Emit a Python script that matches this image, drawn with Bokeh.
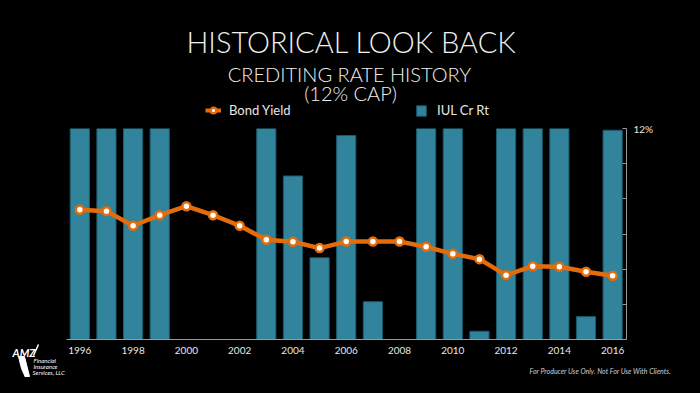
from bokeh.plotting import figure
from bokeh.layouts import column, row
from bokeh.models import (ColumnDataSource, Legend, LegendItem, FixedTicker,
                          Range1d, Title)
from bokeh.core.properties import value
from bokeh.embed import file_html
from bokeh.resources import INLINE

# ---- data ----
years = list(range(1996, 2017))
iul_cr_rt = [12, 12, 12, 12, 0, 0, 0, 12, 9.3, 4.65, 11.6, 2.15, 0, 12, 12, 0.47,
             12, 12, 12, 1.3, 11.9]
bond_yield = [7.38, 7.30, 6.47, 7.07, 7.58, 7.07, 6.47, 5.67, 5.56, 5.20, 5.57,
              5.57, 5.57, 5.27, 4.87, 4.57, 3.66, 4.17, 4.14, 3.85, 3.62]
x_ticks = list(range(1996, 2017, 2))
y_ticks = [0, 2, 4, 6, 8, 10, 12]
title = "HISTORICAL LOOK BACK"
subtitle1 = "CREDITING RATE HISTORY"
subtitle2 = "(12% CAP)"
series_names = ["Bond Yield", "IUL Cr Rt"]
footer = "For Producer Use Only. Not For Use With Clients."
logo_lines = ["Financial", "Insurance", "Services, LLC"]

FONT = "Lato"
LIGHT = "'Lato Light', Lato"
TEAL = "#31849B"
TEAL_EDGE = "#1d5a6b"
ORANGE = "#E46C0A"
TXT = "#e6e6e6"

W = 684

def blank(width, height, xr, yr):
    f = figure(width=width, height=height, output_backend="svg",
               toolbar_location=None, x_range=Range1d(*xr), y_range=Range1d(*yr),
               x_axis_location=None, y_axis_location=None,
               min_border=0, background_fill_color="black",
               border_fill_color="black", outline_line_color=None)
    f.grid.visible = False
    f.frame_align = False
    return f

# ---------- header (titles + legend), page y coordinates ----------
hdr = blank(W, 120, (0, W), (120, 0))
hdr.text(x=[351], y=[41], text=[title], text_align="center", text_baseline="middle",
         text_color="#f0f0f0", text_font=value(LIGHT), text_font_size="29px")
hdr.text(x=[349], y=[73], text=[subtitle1], text_align="center",
         text_baseline="middle", text_color="#f0f0f0", text_font=value(LIGHT),
         text_font_size="20px")
hdr.text(x=[350], y=[92], text=[subtitle2], text_align="center",
         text_baseline="middle", text_color="#f0f0f0", text_font=value(LIGHT),
         text_font_size="20px")
# legend proxies (same styling as the chart marks), kept outside the view
l_line = hdr.line(x=[-50, -40], y=[-50, -50], line_color=ORANGE, line_width=4)
l_pts = hdr.scatter(x=[-50], y=[-50], size=9, fill_color="white",
                    line_color=ORANGE, line_width=2.5)
l_bar = hdr.vbar(x=[-50], top=[-50], width=1, fill_color=TEAL,
                 line_color=TEAL_EDGE)
common = dict(orientation="horizontal", background_fill_alpha=0,
              border_line_color=None, padding=0, margin=0, label_height=14,
              label_text_color=TXT, label_text_font=FONT,
              label_text_font_size="13px", label_text_baseline="middle")
leg1 = Legend(items=[LegendItem(label=series_names[0], renderers=[l_line, l_pts])],
              location=(205, 2), glyph_width=16, glyph_height=14,
              label_standoff=8, **common)
leg2 = Legend(items=[LegendItem(label=series_names[1], renderers=[l_bar])],
              location=(415, 2), glyph_width=12, glyph_height=13,
              label_standoff=10, **common)
hdr.add_layout(leg1, "center")
hdr.add_layout(leg2, "center")

# ---------- left strip (logo), page y coordinates ----------
left = blank(66, 257, (0, 66), (377, 120))
left.patch(x=[18, 24, 26.5, 29, 25, 21], y=[356, 356, 366, 376, 377, 368],
           color="white")
left.line(x=[33, 38], y=[355, 344], line_color="white", line_width=1.5)
left.text(x=[12], y=[352], text=["AMZ"], text_baseline="middle",
          text_color="white", text_font=value(FONT), text_font_size="11px",
          text_font_style="bold italic")
left.text(x=[33, 33, 32], y=[359.5, 365.5, 371.5], text=logo_lines,
          text_baseline="middle", text_color="white", text_font=value(FONT),
          text_font_size="6px", text_font_style="italic")

# ---------- main chart ----------
src = ColumnDataSource(dict(year=years, iul=iul_cr_rt, bond=bond_yield))

p = figure(frame_width=560, frame_height=211, output_backend="svg",
           toolbar_location=None,
           x_range=Range1d(1995.5, 2016.52), y_range=Range1d(0, 12),
           y_axis_location="right",
           min_border_left=0, min_border_right=58, min_border_top=8,
           min_border_bottom=38,
           background_fill_color="black", border_fill_color="black",
           outline_line_color=None)
p.grid.visible = False
p.frame_align = False

bars = p.vbar(x="year", top="iul", width=0.72, source=src, fill_color=TEAL,
              line_color=TEAL_EDGE, line_width=1)
line = p.line(x="year", y="bond", source=src, line_color=ORANGE, line_width=4.5)
pts = p.scatter(x="year", y="bond", source=src, size=8, fill_color="white",
                line_color=ORANGE, line_width=2.5)

xa = p.xaxis[0]
xa.ticker = FixedTicker(ticks=x_ticks)
xa.major_tick_line_color = None
xa.minor_tick_line_color = None
xa.axis_line_color = "#9a9a9a"
xa.major_label_text_color = TXT
xa.major_label_text_font = FONT
xa.major_label_text_font_size = "10px"
xa.major_label_standoff = 1

ya = p.yaxis[0]
ya.ticker = FixedTicker(ticks=y_ticks)
ya.major_label_overrides = {t: ("12%" if t == 12 else "") for t in y_ticks}
ya.axis_line_color = "#9a9a9a"
ya.major_tick_line_color = "#9a9a9a"
ya.major_tick_in = 4
ya.major_tick_out = 0
ya.minor_tick_line_color = None
ya.major_label_text_color = TXT
ya.major_label_text_font = FONT
ya.major_label_text_font_size = "10px"
ya.major_label_standoff = 7

p.add_layout(Title(text=footer, align="left", offset=463, standoff=16,
                   text_font=FONT, text_font_size="7px",
                   text_font_style="italic", text_color="#d0d0d0"), "below")

layout = column(hdr, row(left, p, spacing=0), spacing=0,
                styles={"background-color": "black"})

html = file_html(layout, INLINE)
html = html.replace("<head>", "<head><style>html,body{background:#000;}</style>", 1)
open("out.html", "w").write(html)
